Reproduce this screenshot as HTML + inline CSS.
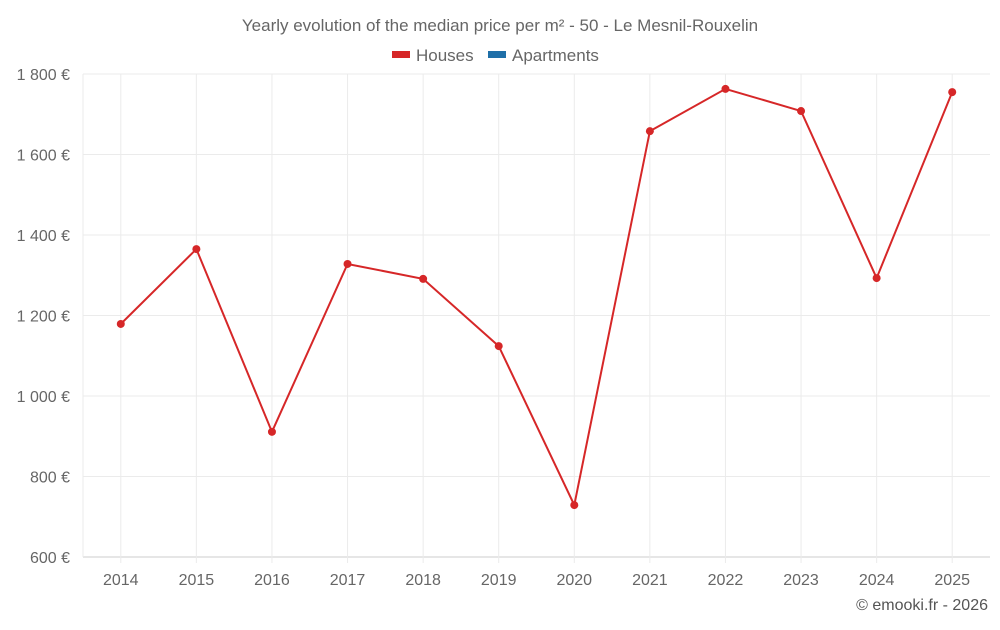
<!DOCTYPE html>
<html><head><meta charset="utf-8"><style>
body{margin:0;background:#fff;font-family:"Liberation Sans",sans-serif;}
svg text{font-family:"Liberation Sans",sans-serif;}
</style></head><body>
<svg id="chart" width="1000" height="625">
<text x="500" y="31" text-anchor="middle" font-size="17" fill="#666">Yearly evolution of the median price per m² - 50 - Le Mesnil-Rouxelin</text>
<g><rect x="392" y="51" width="18" height="7" fill="#d62728"/><text x="416" y="61" font-size="17" fill="#666">Houses</text></g>
<g><rect x="488" y="51" width="18" height="7" fill="#1f6fa8"/><text x="512" y="61" font-size="17" fill="#666">Apartments</text></g>
<g id="grid"></g><g id="axes"></g><g id="series"></g>
<text x="988" y="610" text-anchor="end" font-size="16" fill="#555">© emooki.fr - 2026</text>
</svg>
<script>
const years=["2014","2015","2016","2017","2018","2019","2020","2021","2022","2023","2024","2025"];
const houses=[1179,1365,911,1328,1291,1124,729,1658,1763,1708,1293,1755];
const yTicks=[600,800,1000,1200,1400,1600,1800];
const yLabels=["600 €","800 €","1 000 €","1 200 €","1 400 €","1 600 €","1 800 €"];
const NS="http://www.w3.org/2000/svg";
const x0=83,x1=990,yTop=74,yBot=557,yMin=600,yMax=1800;
const step=(x1-x0)/years.length;
const X=i=>x0+step*(i+0.5);
const Y=v=>yBot-(v-yMin)/(yMax-yMin)*(yBot-yTop);
function mk(t,a,p){const e=document.createElementNS(NS,t);for(const k in a)e.setAttribute(k,a[k]);p.appendChild(e);return e;}
const g=document.getElementById('grid'),ax=document.getElementById('axes'),s=document.getElementById('series');
yTicks.forEach((v,i)=>{
 const l=mk('line',{x1:x0,x2:x1,y1:Y(v),y2:Y(v),stroke:i==0?'#ccc':'#ebebeb'},g);
 
 
 const t=mk('text',{x:70,y:Y(v)+6,'text-anchor':'end','font-size':16,fill:'#666'},ax);
 t.textContent=yLabels[i];
 
 
});
mk('line',{x1:x0,x2:x0,y1:yTop,y2:yBot,stroke:'#ebebeb'},g);
years.forEach((y,i)=>{
 const l=mk('line',{x1:X(i),x2:X(i),y1:yTop,y2:yBot+6,stroke:'#ebebeb'},g);
 
 
 const t=mk('text',{x:X(i),y:585,'text-anchor':'middle','font-size':16,fill:'#666'},ax);
 t.textContent=y;
 
 
});
const line=mk('polyline',{points:houses.map((v,i)=>X(i)+','+Y(v)).join(' '),fill:'none',stroke:'#d62728','stroke-width':2},s);


houses.forEach((v,i)=>{
 const c=mk('circle',{cx:X(i),cy:Y(v),r:4,fill:'#d62728'},s);
 
 
});
</script>
</body></html>
